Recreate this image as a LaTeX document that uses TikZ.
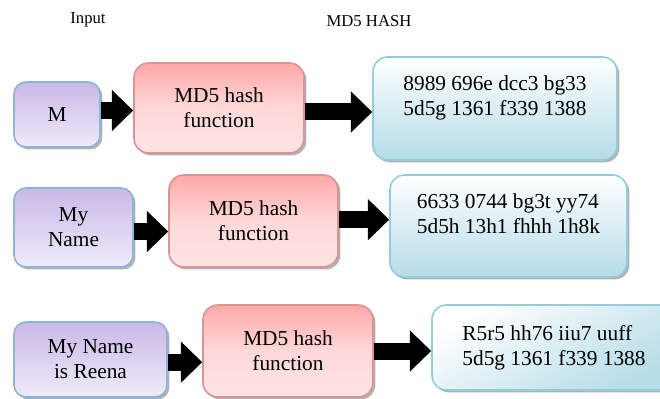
\documentclass[tikz,border=0pt]{standalone}
\usepackage{fontspec}
\setmainfont{Liberation Serif}
\usetikzlibrary{arrows.meta,shadows}

\definecolor{inTop}{RGB}{201,184,230}
\definecolor{inBot}{RGB}{240,235,250}
\definecolor{inLine}{RGB}{143,180,217}
\definecolor{fnDark}{RGB}{255,168,168}
\definecolor{fnLight}{RGB}{255,228,228}
\definecolor{fnLine}{RGB}{217,149,148}
\definecolor{hTop}{RGB}{255,255,255}
\definecolor{hBot}{RGB}{181,220,232}
\definecolor{hLine}{RGB}{147,205,221}

\tikzset{
  boxshadow/.style={drop shadow={shadow xshift=1.8pt,shadow yshift=-1.8pt,fill=black!60}},
  inbox/.style={draw=inLine,line width=1.2pt,rounded corners=9pt,top color=inTop,bottom color=inBot,
    boxshadow,inner sep=0pt,align=center,font=\rmfamily\fontsize{16}{18.75}\selectfont},
  fnbox/.style={draw=fnLine,line width=1.2pt,rounded corners=11pt,shading=axis,shading angle=45,
    top color=fnDark,bottom color=fnLight,middle color=fnLight!80!fnDark,
    boxshadow,inner sep=0pt,align=center,font=\rmfamily\fontsize{16}{18.75}\selectfont},
  hashbox/.style={draw=hLine,line width=1.2pt,rounded corners=11pt,top color=hTop,bottom color=hBot,
    boxshadow,inner sep=0pt,align=left,font=\rmfamily\fontsize{16}{18.75}\selectfont},
  blockarrow/.style={line width=12.75pt,-{Triangle[width=30pt,length=16pt]}},
  headtext/.style={font=\rmfamily\fontsize{12.5}{14}\selectfont}
}

\begin{document}
\begin{tikzpicture}[x=0.75pt,y=0.75pt,yscale=-1,xscale=1]
\useasboundingbox (0,0) rectangle (660,399);

% Text Node
\draw (88,20) node [headtext] (inputlbl) {Input};
% Text Node
\draw (369,21) node [headtext] (hashlbl) {MD5 HASH};

%Row 1
\draw (57,114.5) node [inbox,minimum width=64.5pt,minimum height=48.75pt] (in1) {M};
\draw (219,108) node [fnbox,minimum width=127.5pt,minimum height=67.5pt] (fn1) {MD5 hash\\function};
\draw (495,108.5) node [hashbox,minimum width=183pt,minimum height=77.25pt] (h1) {8989 696e dcc3 bg33\\5d5g 1361 f339 1388\\\mbox{}};
\draw [blockarrow] ([yshift=-3pt]in1.east) -- ([yshift=-3pt]in1.east -| fn1.west);
\draw [blockarrow] ([yshift=3pt]fn1.east) -- ([yshift=3pt]fn1.east -| h1.west);

%Row 2
\draw (73.5,227.5) node [inbox,minimum width=89.25pt,minimum height=59.25pt] (in2) {My\\Name};
\draw (253.5,221) node [fnbox,minimum width=126.75pt,minimum height=69pt] (fn2) {MD5 hash\\function};
\draw (508.5,226) node [hashbox,minimum width=177.75pt,minimum height=76.5pt] (h2) {6633 0744 bg3t yy74\\5d5h 13h1 fhhh 1h8k\\\mbox{}};
\draw [blockarrow] ([yshift=3pt]in2.east) -- ([yshift=3pt]in2.east -| fn2.west);
\draw [blockarrow] ([yshift=-1pt]fn2.east) -- ([yshift=-1pt]fn2.east -| h2.west);

%Row 3
\draw (90.5,359.5) node [inbox,minimum width=114.75pt,minimum height=56.25pt] (in3) {My Name\\is Reena};
\draw (288,351) node [fnbox,minimum width=127.5pt,minimum height=69pt] (fn3) {MD5 hash\\function};
\draw (554,347.5) node [hashbox,shading angle=30,minimum width=183pt,minimum height=63.75pt] (h3) {R5r5 hh76 iiu7 uuff\\5d5g 1361 f339 1388};
\draw [blockarrow] ([yshift=2pt]in3.east) -- ([yshift=2pt]in3.east -| fn3.west);
\draw [blockarrow] ([yshift=0pt]fn3.east) -- ([yshift=0pt]fn3.east -| h3.west);

\end{tikzpicture}
\end{document}
